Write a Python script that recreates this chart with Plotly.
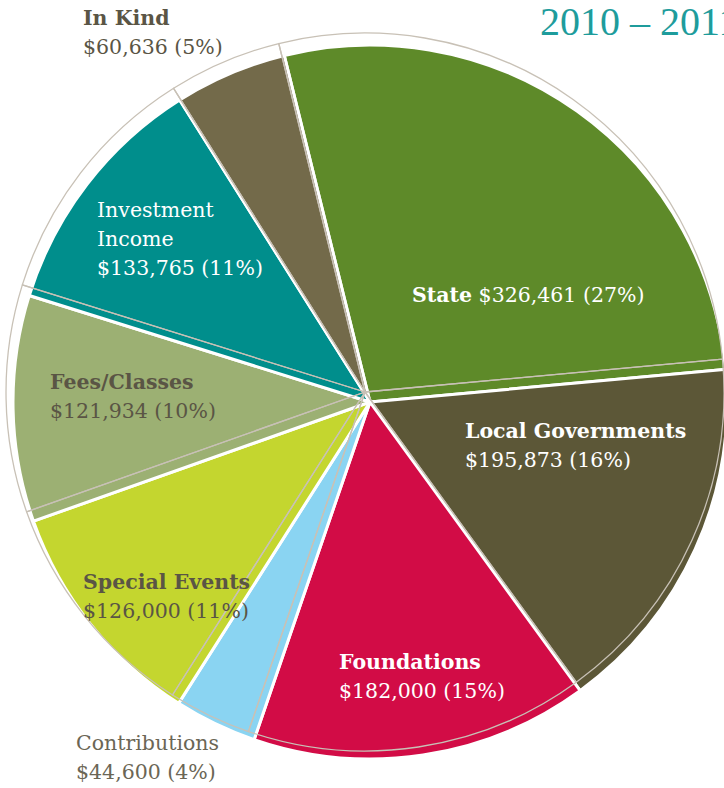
import plotly.graph_objects as go

# ---- data ----
categories = ["State", "Local Governments", "Foundations", "Contributions",
              "Special Events", "Fees/Classes", "Investment Income", "In Kind"]
amounts = [326461, 195873, 182000, 44600, 126000, 121934, 133765, 60636]
slice_colors = ["#5E8A29", "#5C5737", "#D20C46", "#8AD4F2",
                "#C4D62F", "#9CB073", "#008E8C", "#736A4A"]
title_text = "2010 – 2011"

total = sum(amounts)

W, H = 740, 788
ROT = -13.9


def dom(cx, cy, r):
    return dict(x=[(cx - r) / W, min((cx + r) / W, 1.0)],
                y=[(H - cy - r) / H, (H - cy + r) / H])


fig = go.Figure()
# filled pie
fig.add_trace(go.Pie(
    labels=categories, values=amounts, sort=False, direction="clockwise",
    rotation=ROT, marker=dict(colors=slice_colors, line=dict(color="white", width=3)),
    textinfo="none", hoverinfo="skip", domain=dom(370, 402, 357), showlegend=False,
))
# offset outline pie
fig.add_trace(go.Pie(
    labels=categories, values=amounts, sort=False, direction="clockwise",
    rotation=ROT, marker=dict(colors=["rgba(0,0,0,0)"] * len(amounts),
                              line=dict(color="#C8C1B6", width=1.3)),
    textinfo="none", hoverinfo="skip", domain=dom(365, 392, 359), showlegend=False,
))

# label placement: left x, centre y of first line, colour, bold head, head lines
label_pos = {
    "In Kind": (81, 18, "#5A5545", True, ["In Kind"]),
    "Investment Income": (95, 210, "white", False, ["Investment", "Income"]),
    "State": (410, 295, "white", True, None),
    "Fees/Classes": (48, 382, "#5A5545", True, ["Fees/Classes"]),
    "Local Governments": (463, 431, "white", True, ["Local Governments"]),
    "Special Events": (81, 582, "#5A5545", True, ["Special Events"]),
    "Foundations": (337, 662, "white", True, ["Foundations"]),
    "Contributions": (74, 743, "#6B6655", False, ["Contributions"]),
}
LINE = 29

anns = []
for name, v in zip(categories, amounts):
    x, y0, col, bold, lines = label_pos[name]
    amt = f"${v:,} ({round(100 * v / total)}%)"
    if lines is None:
        rows = [f"<b>{name}</b> {amt}"]
    else:
        rows = [f"<b>{l}</b>" if bold else l for l in lines] + [amt]
    for i, row in enumerate(rows):
        anns.append(dict(text=row, x=x / W, y=1 - (y0 + i * LINE) / H,
                         xref="paper", yref="paper", xanchor="left", yanchor="middle",
                         align="left", showarrow=False,
                         font=dict(family="DejaVu Serif", size=20.5, color=col)))

anns.append(dict(text=title_text, x=538 / W, y=1 - (-3) / H, xref="paper", yref="paper",
                 xanchor="left", yanchor="top", align="left", showarrow=False,
                 font=dict(family="Liberation Serif", size=40, color="#1E9C9C")))

fig.update_layout(width=W, height=H, margin=dict(l=0, r=0, t=0, b=0),
                  paper_bgcolor="white", plot_bgcolor="white", annotations=anns)

fig.write_html(
    "out.html",
    config={"displayModeBar": False},
    post_script="document.body.style.margin='0';"
                "document.body.style.overflow='hidden';"
                "document.documentElement.style.overflow='hidden';",
)
